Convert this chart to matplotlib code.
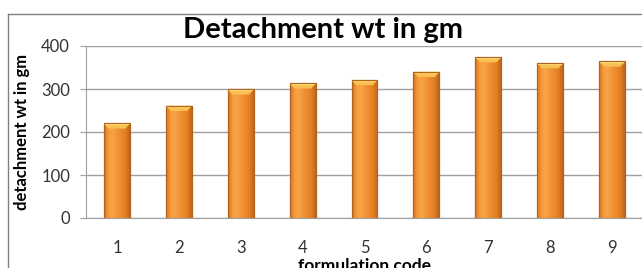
import numpy as np
import matplotlib
matplotlib.use('Agg')
import matplotlib.pyplot as plt
from matplotlib.colors import LinearSegmentedColormap
from matplotlib.patches import Polygon
from matplotlib.lines import Line2D

# dados do grafico
codigos = ['1', '2', '3', '4', '5', '6', '7', '8', '9']
peso = [220, 261, 299, 313, 321, 340, 374, 360, 364]
yticks = [0, 100, 200, 300, 400]

plt.rcParams['font.family'] = ['Lato', 'DejaVu Sans']

fig = plt.figure(figsize=(6.42, 2.68), dpi=100)
ax = fig.add_axes([86 / 642, 1 - 218 / 268, 557 / 642, 172 / 268])

x = np.arange(len(codigos))
largura = 0.42
barras = ax.bar(x, peso, width=largura, color='#F29234', edgecolor='#A65A1A',
                linewidth=0.8, zorder=2)

# gradiente horizontal em cada barra
cmap = LinearSegmentedColormap.from_list(
    'laranja', ['#D8721E', '#F59A3C', '#F8A449', '#F39538', '#EC8A2C', '#E27E24', '#C46619'])
grad = np.linspace(0, 1, 64).reshape(1, -1)
for b in barras:
    x0, w, h = b.get_x(), b.get_width(), b.get_height()
    im = ax.imshow(grad, cmap=cmap, extent=[x0, x0 + w, 0, h], aspect='auto', zorder=2.5)
    im.set_clip_path(b)
    # chanfro no topo
    dx, dy = w * 0.18, 12
    topo = Polygon([[x0, h], [x0 + w, h], [x0 + w - dx, h - dy], [x0 + dx, h - dy]],
                   closed=True, facecolor='#F9C052', edgecolor='none', zorder=3)
    ax.add_patch(topo)
    ax.add_patch(Polygon([[x0, h], [x0 + w, h], [x0 + w - dx * 0.3, h - 4], [x0 + dx * 0.3, h - 4]],
                         closed=True, facecolor='#FDE07A', edgecolor='none', zorder=3.1))
    ax.add_patch(Polygon([[x0, 0], [x0 + w, 0], [x0 + w, h], [x0, h]], closed=True,
                         facecolor='none', edgecolor='#B0631E', linewidth=0.8, zorder=3.2))

ax.set_xlim(-0.5, len(codigos) - 0.5)
ax.set_ylim(0, 400)
ax.set_yticks(yticks)
ax.set_xticks(x)
ax.set_xticklabels(codigos)
ax.yaxis.grid(True, color='#A0A0A0', linewidth=1.0, zorder=1)
ax.set_axisbelow(True)

for s in ['top', 'right']:
    ax.spines[s].set_visible(False)
ax.spines['left'].set_color('#A0A0A0')
ax.spines['bottom'].set_color('#A0A0A0')
ax.tick_params(axis='y', length=4.5, color='#A0A0A0', pad=7, labelsize=12, labelcolor='#333333')
ax.tick_params(axis='x', length=0, pad=16, labelsize=12, labelcolor='#333333')

ax.set_ylabel('detachment wt in gm', fontsize=12, fontweight='bold', labelpad=8)
ax.set_xlabel('formulation code', fontsize=12.5, fontweight='bold', labelpad=1)

fig.text(323 / 642, 1 - 30 / 268, 'Detachment wt in gm', ha='center', va='center',
         fontsize=21, fontweight='bold')

# moldura externa
fig.add_artist(Line2D([8 / 642, 1], [1 - 14 / 268] * 2, transform=fig.transFigure,
                      color='#808080', linewidth=1))
fig.add_artist(Line2D([8 / 642] * 2, [0, 1 - 14 / 268], transform=fig.transFigure,
                      color='#808080', linewidth=1))

fig.savefig('out.png', dpi=100)
